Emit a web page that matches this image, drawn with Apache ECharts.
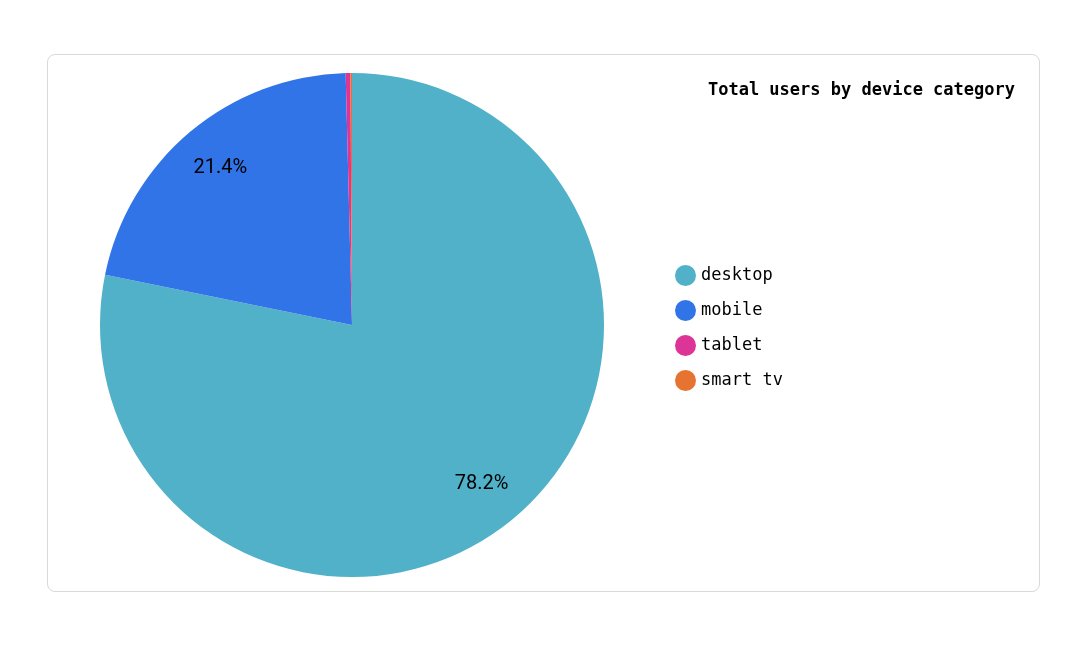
<!DOCTYPE html>
<html><head><meta charset="utf-8">
<script src="https://cdn.jsdelivr.net/npm/echarts@6/dist/echarts.min.js"></script>
<style>
html,body{margin:0;padding:0;background:#fff;}
#card{position:absolute;left:47px;top:54px;width:993px;height:538px;border:1px solid #d9d9d9;border-radius:8px;box-sizing:border-box;}
#c{position:absolute;left:0;top:0;width:1092px;height:650px;}
</style></head><body>
<div id="card"></div>
<div id="c"></div>
<script>
const categories = ['desktop','mobile','tablet','smart tv'];
const values = [782, 214, 3, 1];
const colors = ['#50b1c8','#3174e8','#dd3497','#e67330'];
const data = categories.map((n,i)=>({name:n,value:values[i],itemStyle:{color:colors[i]}}));
const chart = echarts.init(document.getElementById('c'));
chart.setOption({
  animation:false,
  title:{text:'Total users by device category',right:72,top:77,textStyle:{fontFamily:'DejaVu Sans Mono',fontSize:17,fontWeight:'bold',color:'#000'}},
  legend:{orient:'vertical',left:670,top:260,itemWidth:21,itemHeight:21,itemGap:14,icon:'circle',
    textStyle:{fontFamily:'DejaVu Sans Mono',fontSize:17,color:'#000'},data:categories},
  series:[
    {type:'pie',center:[352,325],radius:[0,252],startAngle:90,clockwise:true,data:data,
     label:{show:false},labelLine:{show:false},itemStyle:{borderWidth:0}},
    {type:'pie',center:[352,325],radius:[152,252],startAngle:90,clockwise:true,silent:true,
     data:data.map(d=>({name:d.name,value:d.value,itemStyle:{color:'rgba(0,0,0,0)'}})),
     legendHoverLink:false,
     label:{show:true,position:'inside',fontFamily:'Roboto',fontSize:20,color:'#000',
       formatter:p=>p.percent>5?p.percent.toFixed(1)+'%':''},labelLine:{show:false}}
  ]
});
</script></body></html>
